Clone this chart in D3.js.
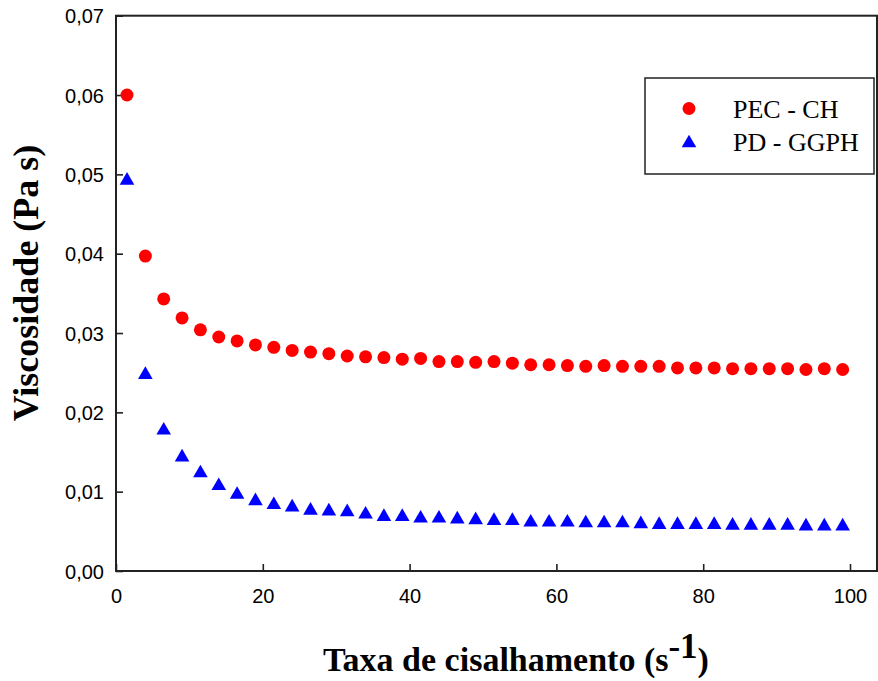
<!DOCTYPE html>
<html>
<head>
<meta charset="utf-8">
<script src="https://cdn.jsdelivr.net/npm/d3@7"></script>
<style>
  body { margin: 0; background: #fff; }
  svg { display: block; }
</style>
</head>
<body>
<svg id="chart"></svg>
<script>
// shear rate (s^-1)
var shearRate = [1.5, 4, 6.5, 9, 11.5, 14, 16.5, 19, 21.5, 24,
                 26.5, 29, 31.5, 34, 36.5, 39, 41.5, 44, 46.5, 49,
                 51.5, 54, 56.5, 59, 61.5, 64, 66.5, 69, 71.5, 74,
                 76.5, 79, 81.5, 84, 86.5, 89, 91.5, 94, 96.5, 99];

// viscosity (Pa s)
var pecCh = [0.0600, 0.0397, 0.0343, 0.0319, 0.0304, 0.0295, 0.0290, 0.0285, 0.0282, 0.0278,
             0.0276, 0.0274, 0.0271, 0.0270, 0.0269, 0.0267, 0.0268, 0.0264, 0.0264, 0.0263,
             0.0264, 0.0262, 0.0260, 0.0260, 0.0259, 0.0258, 0.0259, 0.0258, 0.0258, 0.0258,
             0.0256, 0.0256, 0.0256, 0.0255, 0.0255, 0.0255, 0.0255, 0.0254, 0.0255, 0.0254];

var pdGgph = [0.0495, 0.0250, 0.0180, 0.0146, 0.0126, 0.0110, 0.0099, 0.0091, 0.0086, 0.0083,
              0.0079, 0.0078, 0.0077, 0.0074, 0.0071, 0.0071, 0.0069, 0.0069, 0.0068, 0.0067,
              0.0066, 0.0066, 0.0064, 0.0064, 0.0064, 0.0063, 0.0063, 0.0063, 0.0062, 0.0061,
              0.0061, 0.0061, 0.0061, 0.0060, 0.0060, 0.0060, 0.0060, 0.0059, 0.0059, 0.0059];

var seriesNames = ["PEC - CH", "PD - GGPH"];
var xTicks = [0, 20, 40, 60, 80, 100];
var yTicks = [0, 0.01, 0.02, 0.03, 0.04, 0.05, 0.06, 0.07];

var W = 878, H = 681;
var frame = {left: 116, right: 877, top: 15.7, bottom: 571};

var svg = d3.select("#chart").attr("width", W).attr("height", H);

var x = d3.scaleLinear().domain([0, 100]).range([frame.left, 850]);
var y = d3.scaleLinear().domain([0, 0.07]).range([frame.bottom, frame.top]);

var ptBr = d3.formatLocale({decimal: ",", thousands: ".", grouping: [3], currency: ["R$", ""]});
var fmt = ptBr.format(".2f");

// axes, ticks pointing inward
var xAxis = svg.append("g")
    .attr("transform", "translate(0," + frame.bottom + ")")
    .call(d3.axisBottom(x).tickValues(xTicks).tickSize(-7).tickSizeOuter(0).tickPadding(18));
var yAxis = svg.append("g")
    .attr("transform", "translate(" + frame.left + ",0)")
    .call(d3.axisLeft(y).tickValues(yTicks).tickFormat(fmt).tickSize(-7).tickSizeOuter(0).tickPadding(12));

[xAxis, yAxis].forEach(function(g){
    g.select(".domain").remove();
    g.selectAll(".tick line").attr("stroke", "#222").attr("stroke-width", 1.6);
    g.selectAll(".tick text")
        .attr("font-family", "'Liberation Sans', Arial, sans-serif")
        .attr("font-size", 20)
        .attr("fill", "#000");
});
yAxis.selectAll(".tick text").attr("dy", "0.36em");

// frame
svg.append("rect")
    .attr("x", frame.left).attr("y", frame.top)
    .attr("width", frame.right - frame.left)
    .attr("height", frame.bottom - frame.top)
    .attr("fill", "none")
    .attr("stroke", "#222")
    .attr("stroke-width", 2);

// markers
var triPath = function(s){
    var h = s * Math.sqrt(3) / 2;
    return "M0," + (-h / 2) + "L" + (s / 2) + "," + (h / 2) + "L" + (-s / 2) + "," + (h / 2) + "Z";
};

svg.append("g").selectAll("circle")
    .data(shearRate)
    .enter().append("circle")
    .attr("cx", function(d){ return x(d); })
    .attr("cy", function(d, i){ return y(pecCh[i]); })
    .attr("r", 6.5)
    .attr("fill", "#ff0000");

svg.append("g").selectAll("path")
    .data(shearRate)
    .enter().append("path")
    .attr("d", triPath(14.6))
    .attr("transform", function(d, i){ return "translate(" + x(d) + "," + y(pdGgph[i]) + ")"; })
    .attr("fill", "#0000ff");

// legend
var legend = svg.append("g");
legend.append("rect")
    .attr("x", 645).attr("y", 78)
    .attr("width", 229).attr("height", 96)
    .attr("fill", "#fff")
    .attr("stroke", "#222")
    .attr("stroke-width", 1.5);
legend.append("circle")
    .attr("cx", 689).attr("cy", 108.5).attr("r", 6.5)
    .attr("fill", "#ff0000");
legend.append("path")
    .attr("d", triPath(14.6))
    .attr("transform", "translate(689,141)")
    .attr("fill", "#0000ff");
legend.selectAll("text")
    .data(seriesNames)
    .enter().append("text")
    .attr("x", 733)
    .attr("y", function(d, i){ return 118 + i * 33; })
    .attr("font-family", "'Liberation Serif', 'Times New Roman', serif")
    .attr("font-size", 26)
    .text(function(d){ return d; });

// axis titles
var xTitle = svg.append("text")
    .attr("x", 516).attr("y", 671)
    .attr("text-anchor", "middle")
    .attr("font-family", "'Liberation Serif', 'Times New Roman', serif")
    .attr("font-weight", "bold")
    .attr("font-size", 34);
xTitle.append("tspan").text("Taxa de cisalhamento (s");
xTitle.append("tspan").attr("dy", -13).attr("font-size", 35).text("-1");
xTitle.append("tspan").attr("dy", 13).text(")");

svg.append("text")
    .attr("transform", "translate(38,283) rotate(-90)")
    .attr("text-anchor", "middle")
    .attr("font-family", "'Liberation Serif', 'Times New Roman', serif")
    .attr("font-weight", "bold")
    .attr("font-size", 36)
    .text("Viscosidade (Pa s)");
</script>
</body>
</html>
